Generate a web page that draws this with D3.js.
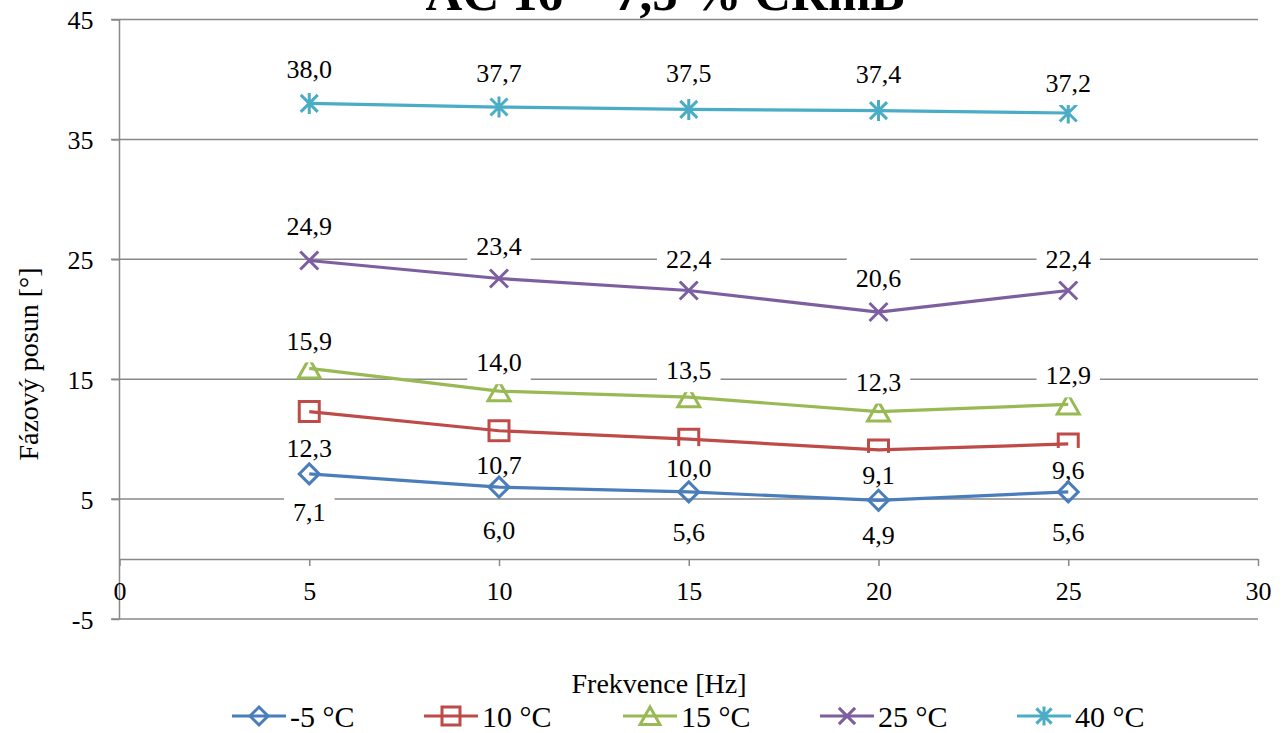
<!DOCTYPE html>
<html>
<head>
<meta charset="utf-8">
<script src="https://cdn.jsdelivr.net/npm/d3@7"></script>
<style>
  html, body { margin: 0; padding: 0; background: #fff; }
  svg { display: block; }
  svg text { font-family: "Liberation Serif", "Times New Roman", Times, "DejaVu Serif", serif !important; fill: #000; }
</style>
</head>
<body>
<svg id="chart" width="1282" height="733"></svg>
<script>
// ---- data ----
const title = "AC 16 – 7,5 % CRmB";
const xTitle = "Frekvence [Hz]";
const yTitle = "Fázový posun [°]";
const frequencies = [5, 10, 15, 20, 25];
const seriesNames = ["-5 °C", "10 °C", "15 °C", "25 °C", "40 °C"];
const valuesM5 = [7.1, 6.0, 5.6, 4.9, 5.6];
const values10 = [12.3, 10.7, 10.0, 9.1, 9.6];
const values15 = [15.9, 14.0, 13.5, 12.3, 12.9];
const values25 = [24.9, 23.4, 22.4, 20.6, 22.4];
const values40 = [38.0, 37.7, 37.5, 37.4, 37.2];
const xTicks = [0, 5, 10, 15, 20, 25, 30];
const yTicks = [-5, 5, 15, 25, 35, 45];

// ---- styles / layout ----
const FONT = '"Liberation Serif", "Times New Roman", Times, "DejaVu Serif", serif';
const colors = ["#4A7EBB", "#BE4B48", "#98B954", "#7D5FA0", "#4BACC6"];
const symbols = ["diamond", "square", "triangle", "cross", "star"];
// data-label offsets in pixels (layout only, as placed in the original chart)
const labelDyM5 = [38, 43, 40, 35, 40];
const labelDy10 = [36, 34, 29, 25, 26];
const labelDy15 = [-28, -29, -27, -30, -29];
const labelDy25 = [-35, -33, -32, -34, -32];
const labelDy40 = [-35, -34, -37, -37, -30];
const gridColor = "#888888";

const allValues = [valuesM5, values10, values15, values25, values40];
const allDy = [labelDyM5, labelDy10, labelDy15, labelDy25, labelDy40];
const series = seriesNames.map((name, i) => ({
  name, color: colors[i], symbol: symbols[i],
  points: frequencies.map((f, j) => ({ x: f, y: allValues[i][j], dy: allDy[i][j] }))
}));

const svg = d3.select("#chart").attr("font-family", FONT);
const x = d3.scaleLinear().domain([0, 30]).range([119.5, 1258]);
const y = d3.scaleLinear().domain([-5, 45]).range([619, 19.5]);
const fmt = v => d3.format(".1f")(v).replace(".", ",");

function symbolPath(type, s) {
  switch (type) {
    case "diamond": return `M0,${-s}L${s},0L0,${s}L${-s},0Z`;
    case "square": return `M${-s},${-s}H${s}V${s}H${-s}Z`;
    case "triangle": return `M0,${-s}L${s*1.1},${s*0.95}H${-s*1.1}Z`;
    case "cross": { const c = s * 0.9; return `M${-c},${-c}L${c},${c}M${-c},${c}L${c},${-c}`; }
    case "star": { const c = s * 0.85; return `M${-c},${-c}L${c},${c}M${-c},${c}L${c},${-c}M0,${-s*1.05}V${s*1.05}`; }
  }
}

// gridlines
svg.append("g").selectAll("line").data(yTicks).join("line")
  .attr("x1", 111).attr("x2", 1258)
  .attr("y1", d => y(d)).attr("y2", d => y(d))
  .attr("stroke", gridColor).attr("stroke-width", 1.5);

// y axis
const yAxis = svg.append("g").attr("transform", `translate(${x(0)},0)`)
  .call(d3.axisLeft(y).tickValues(yTicks).tickSize(8).tickFormat(d => String(d)));
yAxis.attr("font-family", FONT);
yAxis.select(".domain").attr("stroke", gridColor).attr("stroke-width", 1.5)
  .attr("d", `M0,${y(45)}V${y(-5)}`);
yAxis.selectAll(".tick line").attr("stroke", gridColor).attr("stroke-width", 1.5);
yAxis.selectAll(".tick text").attr("x", -26).attr("dy", "0.35em")
  .style("font-size", "26px");

// x axis at y=0
const xAxis = svg.append("g").attr("transform", `translate(0,${y(0)})`)
  .call(d3.axisBottom(x).tickValues(xTicks).tickSize(7).tickSizeOuter(0).tickFormat(d => String(d)));
xAxis.attr("font-family", FONT);
xAxis.select(".domain").attr("stroke", gridColor).attr("stroke-width", 1.5);
xAxis.selectAll(".tick line").attr("stroke", gridColor).attr("stroke-width", 1.5);
xAxis.selectAll(".tick text").attr("y", 32).attr("dy", "0.35em")
  .style("font-size", "26px");

// series drawn last-to-first; each series: line, markers, then its labels
const line = d3.line().x(d => x(d.x)).y(d => y(d.y));
series.slice().reverse().forEach(s => {
  const g = svg.append("g");
  g.append("path").datum(s.points).attr("d", line)
    .attr("fill", "none").attr("stroke", s.color).attr("stroke-width", 3.2)
    .attr("stroke-linejoin", "round");
  g.append("g").selectAll("path").data(s.points).join("path")
    .attr("transform", d => `translate(${x(d.x)},${y(d.y)})`)
    .attr("d", symbolPath(s.symbol, 10))
    .attr("fill", "none").attr("stroke", s.color).attr("stroke-width", 3);
  s.points.forEach(p => {
    const cx = x(p.x), cy = y(p.y) + p.dy;
    const rect = g.append("rect").attr("fill", "#fff");
    const t = g.append("text").attr("x", cx).attr("y", cy)
      .attr("text-anchor", "middle").attr("dy", "0.35em")
      .style("font-size", "26px").text(fmt(p.y));
    const w = t.node().getComputedTextLength();
    rect.attr("x", cx - w / 2 - 9).attr("y", cy - 22).attr("width", w + 18).attr("height", 44);
  });
});

// title (partially cut off at top, as in the reference)
svg.append("text").attr("x", 665).attr("y", 10).attr("text-anchor", "middle")
  .style("font-size", "51px").style("font-weight", "bold").text(title);

// axis titles
svg.append("text").attr("x", 659).attr("y", 683).attr("dy", "0.35em")
  .attr("text-anchor", "middle").style("font-size", "28px").text(xTitle);
svg.append("text").attr("transform", "translate(28,364) rotate(-90)")
  .attr("dy", "0.35em").attr("text-anchor", "middle")
  .style("font-size", "28px").text(yTitle);

// legend
const legendX = [232, 424, 623, 820, 1017];
const legendY = 716;
series.forEach((s, i) => {
  const g = svg.append("g").attr("transform", `translate(${legendX[i]},${legendY})`);
  g.append("line").attr("x1", 0).attr("x2", 54).attr("y1", 0).attr("y2", 0)
    .attr("stroke", s.color).attr("stroke-width", 3.2);
  g.append("path").attr("transform", "translate(27,0)")
    .attr("d", symbolPath(s.symbol, 9))
    .attr("fill", "none").attr("stroke", s.color).attr("stroke-width", 3);
  g.append("text").attr("x", 58).attr("dy", "0.35em")
    .style("font-size", "30px").text(s.name);
});
</script>
</body>
</html>
